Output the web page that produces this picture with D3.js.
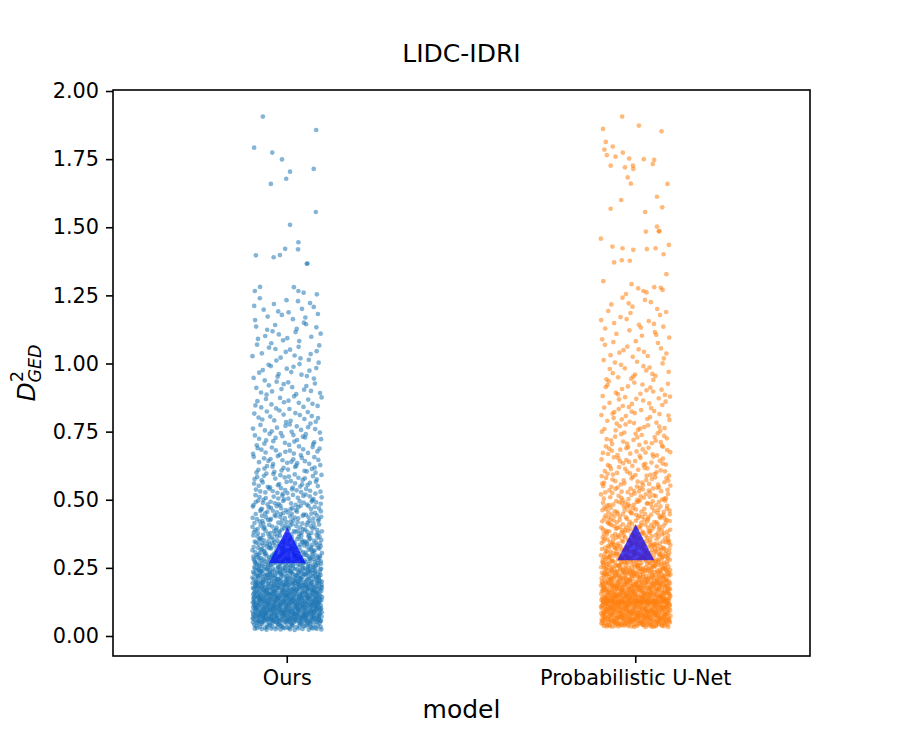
<!DOCTYPE html>
<html>
<head>
<meta charset="utf-8">
<script src="https://cdn.jsdelivr.net/npm/d3@7"></script>
<style>
  body { margin: 0; background: #fff; }
  text { font-family: "DejaVu Sans", sans-serif; }
</style>
</head>
<body>
<div id="chart"></div>
<script>
// Categories and colours
const models = ["Ours", "Probabilistic U-Net"];
const colors = ["#1f77b4", "#ff7f0e"];

// Mean markers (the blue triangles)
const means = [0.333, 0.344];

// Dense part: number of points in each 0.05-wide bin from 0.00 up to 1.25
const binWidth = 0.05;
const oursCounts = [60, 200, 200, 170, 135, 105, 80, 64, 54, 46, 37, 31, 27, 24, 21, 19, 17, 16, 14, 13, 12, 12, 11, 10, 9];
const probCounts = [55, 190, 190, 165, 130, 105, 82, 66, 56, 48, 39, 33, 28, 25, 22, 20, 18, 16, 14, 13, 11, 10, 10, 9, 8];
const minValues = [0.022, 0.033];

// A run of near-identical values visible as a band in the orange strip
const probRepeated = [[0.126, 25]];

// Sparse tail above 1.25: [value, jitter offset] read point by point
const oursUpper = [
  [1.906, -0.070], [1.857, 0.083], [1.792, -0.095], [1.774, -0.043], [1.749, -0.015],
  [1.704, 0.008], [1.714, 0.076], [1.678, -0.003], [1.659, -0.047], [1.556, 0.082],
  [1.509, 0.008], [1.445, 0.032], [1.421, -0.006], [1.419, 0.031], [1.397, -0.090],
  [1.390, -0.039], [1.398, -0.021], [1.366, 0.056], [1.367, 0.058], [1.281, -0.078],
  [1.280, 0.019], [1.266, -0.093], [1.266, 0.032], [1.260, 0.047], [1.254, 0.085]
];
const probUpper = [
  [1.906, -0.039], [1.873, 0.009], [1.861, -0.094], [1.852, 0.074], [1.813, -0.086],
  [1.796, -0.066], [1.785, -0.090], [1.774, -0.037], [1.765, -0.083], [1.759, -0.058],
  [1.752, -0.019], [1.750, 0.023], [1.747, 0.053], [1.732, 0.049], [1.726, -0.072],
  [1.720, -0.031], [1.726, -0.008], [1.714, -0.007], [1.683, -0.023], [1.660, -0.014],
  [1.659, 0.091], [1.612, 0.061], [1.600, -0.042], [1.573, 0.076], [1.568, -0.072],
  [1.556, 0.027], [1.502, 0.061], [1.485, 0.066], [1.486, 0.068], [1.484, 0.029],
  [1.458, -0.100], [1.435, 0.095], [1.429, -0.067], [1.423, -0.038], [1.417, -0.007],
  [1.420, 0.032], [1.423, 0.057], [1.401, 0.080], [1.371, -0.062], [1.379, -0.040],
  [1.377, -0.017], [1.328, 0.088], [1.302, -0.093], [1.291, -0.012], [1.276, 0.007],
  [1.266, 0.022], [1.261, 0.031], [1.280, 0.053], [1.278, 0.072], [1.270, 0.077],
  [1.255, -0.028]
];

const yTicks = [0, 0.25, 0.5, 0.75, 1.0, 1.25, 1.5, 1.75, 2.0];

// Layout
const W = 900, H = 750;
const margin = { top: 90, right: 90, bottom: 94, left: 113 };
const width = W - margin.left - margin.right;
const height = H - margin.top - margin.bottom;

// Halton points spread evenly over the strip, then pushed through the
// histogram (deterministic, no random numbers)
function halton(i, base) {
  let f = 1, r = 0;
  while (i > 0) {
    f /= base;
    r += f * (i % base);
    i = Math.floor(i / base);
  }
  return r;
}

function buildPoints(counts, minValue, repeated, upper, bases) {
  const pts = [];
  const total = d3.sum(counts);
  const cum = d3.cumsum(counts);
  for (let n = 1; n <= total; n++) {
    const u = halton(n, bases[0]);
    const t = halton(n, bases[1]) * total;
    const i = d3.bisectRight(cum, t);
    const before = i > 0 ? cum[i - 1] : 0;
    const lo = Math.max(i * binWidth, minValue);
    const hi = (i + 1) * binWidth;
    pts.push({ value: lo + (t - before) / counts[i] * (hi - lo), jitter: (u * 2 - 1) * 0.1 });
  }
  repeated.forEach(([val, c]) => {
    for (let k = 1; k <= c; k++) {
      pts.push({ value: val + (halton(k, 3) - 0.5) * 0.006, jitter: (halton(k, 2) * 2 - 1) * 0.1 });
    }
  });
  upper.forEach(([val, j]) => pts.push({ value: val, jitter: j }));
  return pts;
}

const series = [
  buildPoints(oursCounts, minValues[0], [], oursUpper, [2, 3]),
  buildPoints(probCounts, minValues[1], probRepeated, probUpper, [3, 2])
];

const svg = d3.select("#chart")
  .append("svg")
  .attr("width", W)
  .attr("height", H);

svg.append("rect").attr("width", W).attr("height", H).attr("fill", "#fff");

const chart = svg.append("g")
  .attr("transform", `translate(${margin.left},${margin.top})`);

// Scales
const xScale = d3.scaleBand()
  .domain(models)
  .range([0, width])
  .padding(0);

const yScale = d3.scaleLinear()
  .domain([-0.0734, 2.0037])
  .range([height, 0]);

// Jitter is expressed in category units (one band = 1 unit)
const xPos = (i, jitter) => xScale(models[i]) + xScale.bandwidth() / 2 + jitter * xScale.bandwidth();

// Strip points
series.forEach((pts, i) => {
  chart.append("g")
    .selectAll("circle")
    .data(pts)
    .enter()
    .append("circle")
    .attr("cx", d => xPos(i, d.jitter))
    .attr("cy", d => yScale(d.value))
    .attr("r", 2.35)
    .attr("fill", colors[i])
    .attr("fill-opacity", 0.55);
});

// Mean triangles
const triHalfW = 18.5, triHalfH = 18;
chart.append("g")
  .selectAll("path")
  .data(means)
  .enter()
  .append("path")
  .attr("transform", (d, i) => `translate(${xPos(i, 0)},${yScale(d)})`)
  .attr("d", `M0,${-triHalfH}L${-triHalfW},${triHalfH}L${triHalfW},${triHalfH}Z`)
  .attr("fill", "#0000ff")
  .attr("fill-opacity", 0.72);

// Axes
const xAxis = chart.append("g")
  .attr("transform", `translate(0,${height})`)
  .call(d3.axisBottom(xScale).tickSize(7).tickPadding(7));

const yAxis = chart.append("g")
  .call(d3.axisLeft(yScale).tickValues(yTicks).tickFormat(d3.format(".2f")).tickSize(7).tickPadding(7));

[xAxis, yAxis].forEach(ax => {
  ax.select(".domain").remove();
  ax.selectAll(".tick line").attr("stroke", "#000").attr("stroke-width", 1.6);
  ax.selectAll("text")
    .style("font-size", "20.8px")
    .style("font-family", "'DejaVu Sans', sans-serif")
    .attr("fill", "#000");
});

// Frame
chart.append("rect")
  .attr("width", width)
  .attr("height", height)
  .attr("fill", "none")
  .attr("stroke", "#000")
  .attr("stroke-width", 1.6);

// Title
svg.append("text")
  .attr("x", margin.left + width / 2)
  .attr("y", 61.5)
  .attr("text-anchor", "middle")
  .style("font-size", "25px")
  .text("LIDC-IDRI");

// X label
svg.append("text")
  .attr("x", margin.left + width / 2)
  .attr("y", 717.5)
  .attr("text-anchor", "middle")
  .style("font-size", "25px")
  .text("model");

// Y label: D with superscript 2 and subscript GED
const yLab = svg.append("g")
  .attr("transform", `translate(35,${margin.top + height / 2}) rotate(-90)`);
yLab.append("text")
  .attr("x", -28.5)
  .attr("y", 0)
  .style("font-size", "25px")
  .style("font-style", "italic")
  .text("D");
yLab.append("text")
  .attr("x", -9)
  .attr("y", -12.5)
  .style("font-size", "17.5px")
  .text("2");
yLab.append("text")
  .attr("x", -9.5)
  .attr("y", 5.5)
  .style("font-size", "17.5px")
  .style("font-style", "italic")
  .text("GED");
</script>
</body>
</html>
